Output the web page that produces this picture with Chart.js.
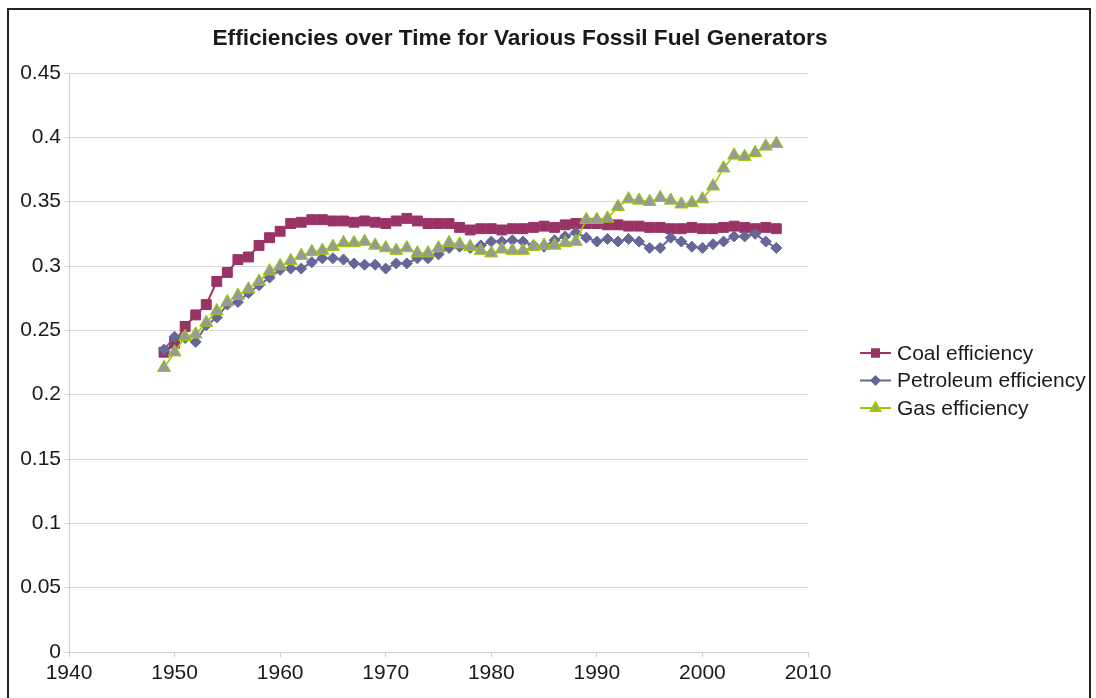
<!DOCTYPE html>
<html>
<head>
<meta charset="utf-8">
<script src="https://cdn.jsdelivr.net/npm/chart.js@4"></script>
<style>
  html, body { margin: 0; padding: 0; background: #fff; overflow: hidden; }
  #frame { position: absolute; left: 7px; top: 8px; width: 1080px; height: 720px; border: 2px solid #222; }
  #wrap { position: absolute; left: 0; top: 0; width: 1096px; height: 698px; }
</style>
</head>
<body>
<div id="frame"></div>
<div id="wrap"><canvas id="chart" width="1096" height="698"></canvas></div>
<script>
const title = 'Efficiencies over Time for Various Fossil Fuel Generators'
const years = []
for (let y = 1949; y <= 2007; y++) years.push(y)

const seriesNames = ['Coal efficiency', 'Petroleum efficiency', 'Gas efficiency']

const coal = [
  0.233, 0.240, 0.253, 0.262, 0.270, 0.288, 0.295, 0.305, 0.307, 0.316,
  0.322, 0.327, 0.333, 0.334, 0.336, 0.336, 0.335, 0.335, 0.334, 0.335,
  0.334, 0.333, 0.335, 0.337, 0.335, 0.333, 0.333, 0.333, 0.330, 0.328,
  0.329, 0.329, 0.328, 0.329, 0.329, 0.330, 0.331, 0.330, 0.332, 0.333,
  0.333, 0.333, 0.332, 0.332, 0.331, 0.331, 0.330, 0.330, 0.329, 0.329,
  0.330, 0.329, 0.329, 0.330, 0.331, 0.330, 0.329, 0.330, 0.329
]
const petroleum = [
  0.235, 0.245, 0.244, 0.241, 0.254, 0.260, 0.270, 0.272, 0.279, 0.285,
  0.291, 0.297, 0.298, 0.298, 0.303, 0.306, 0.306, 0.305, 0.302, 0.301,
  0.301, 0.298, 0.302, 0.302, 0.306, 0.306, 0.309, 0.314, 0.315, 0.314,
  0.316, 0.319, 0.319, 0.320, 0.319, 0.316, 0.315, 0.320, 0.323, 0.326,
  0.322, 0.319, 0.321, 0.319, 0.321, 0.319, 0.314, 0.314, 0.322, 0.319,
  0.315, 0.314, 0.317, 0.319, 0.323, 0.323, 0.325, 0.319, 0.314
]
const gas = [
  0.221, 0.233, 0.245, 0.247, 0.256, 0.265, 0.272, 0.277, 0.282, 0.288,
  0.296, 0.300, 0.304, 0.308, 0.311, 0.312, 0.315, 0.318, 0.318, 0.319,
  0.316, 0.314, 0.312, 0.314, 0.310, 0.310, 0.314, 0.318, 0.317, 0.315,
  0.312, 0.310, 0.313, 0.312, 0.312, 0.315, 0.316, 0.316, 0.318, 0.319,
  0.336, 0.336, 0.337, 0.346, 0.352, 0.351, 0.350, 0.353, 0.351, 0.348,
  0.349, 0.352, 0.362, 0.376, 0.386, 0.385, 0.388, 0.393, 0.395
]

const font = '"Liberation Sans", Arial, sans-serif'
const textColor = '#1a1a1a'

const styles = [
  { color: '#993366', fill: '#993366', point: 'rect', radius: 7, border: 1, line: 2 },
  { color: '#666699', fill: '#666699', point: 'rectRot', radius: 5.5, border: 1, line: 2 },
  { color: '#99cc00', fill: '#999999', point: 'triangle', radius: 7.5, border: 1, line: 1.6 }
]

const toPoints = arr => arr.map((v, i) => ({ x: years[i], y: v }))

// title + legend drawn by hand so they land where the original puts them
const decorations = {
  id: 'decorations',
  afterDraw(chart) {
    const ctx = chart.ctx
    ctx.save()
    ctx.fillStyle = textColor
    ctx.font = 'bold 22px ' + font
    ctx.textAlign = 'center'
    ctx.textBaseline = 'middle'
    const w = ctx.measureText(title).width
    ctx.save()
    ctx.translate(520, 39)
    ctx.scale(615 / w, 1)
    ctx.fillText(title, 0, 0)
    ctx.restore()

    ctx.font = '21px ' + font
    ctx.textAlign = 'left'
    seriesNames.forEach((name, i) => {
      const s = styles[i]
      const y = 353 + i * 27.5
      ctx.strokeStyle = s.color
      ctx.lineWidth = 2
      ctx.beginPath()
      ctx.moveTo(860, y)
      ctx.lineTo(891, y)
      ctx.stroke()
      Chart.helpers.drawPoint(ctx, {
        pointStyle: s.point, radius: s.radius * 0.7, borderWidth: 1
      }, 875.5, y)
      ctx.fillStyle = s.fill
      ctx.strokeStyle = s.color
      ctx.fill()
      ctx.stroke()
      ctx.fillStyle = textColor
      ctx.fillText(name, 897, y + 1)
    })
    ctx.restore()
  }
}

new Chart(document.getElementById('chart'), {
  type: 'line',
  data: {
    datasets: [coal, petroleum, gas].map((d, i) => ({
      label: seriesNames[i],
      data: toPoints(d),
      borderColor: styles[i].color,
      backgroundColor: styles[i].fill,
      pointBorderColor: styles[i].color,
      pointBackgroundColor: styles[i].fill,
      pointStyle: styles[i].point,
      pointRadius: styles[i].radius,
      pointBorderWidth: styles[i].border,
      borderWidth: styles[i].line,
      tension: 0,
      order: 2 - i
    }))
  },
  options: {
    responsive: false,
    animation: false,
    layout: { padding: { top: 73, right: 288, left: 0, bottom: 0 } },
    plugins: {
      legend: { display: false },
      title: { display: false },
      tooltip: { enabled: false }
    },
    scales: {
      x: {
        type: 'linear',
        min: 1940,
        max: 2010,
        ticks: { stepSize: 10, color: textColor, font: { family: font, size: 21 }, padding: 4,
                 callback: v => String(v) },
        grid: { drawOnChartArea: false, drawTicks: true, tickLength: 5, color: '#d0d0d0' },
        border: { color: '#d0d0d0' },
        afterFit: s => { s.height = 46 }
      },
      y: {
        min: 0,
        max: 0.45,
        ticks: { stepSize: 0.05, color: textColor, font: { family: font, size: 21 }, padding: 3,
                 callback: v => String(Math.round(v * 100) / 100) },
        grid: { color: '#d9d9d9', tickLength: 5 },
        border: { color: '#d0d0d0' },
        afterFit: s => { s.width = 69 }
      }
    }
  },
  plugins: [decorations]
})
</script>
</body>
</html>
